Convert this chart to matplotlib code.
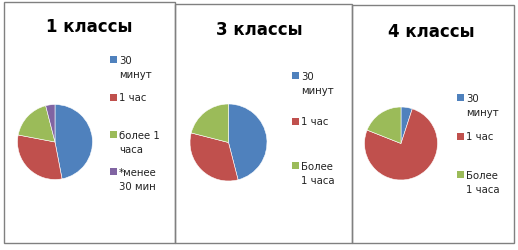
import matplotlib
matplotlib.use("Agg")
import matplotlib.pyplot as plt
from matplotlib.patches import Rectangle

# data (shares, %)
titles = ["1 классы", "3 классы", "4 классы"]
labels_1 = ["30\nминут", "1 час", "более 1\nчаса", "*менее\n30 мин"]
values_1 = [47, 31, 18, 4]
labels_3 = ["30\nминут", "1 час", "Более\n1 часа"]
values_3 = [46, 33, 21]
labels_4 = ["30\nминут", "1 час", "Более\n1 часа"]
values_4 = [5, 76, 19]

colors = ["#4F81BD", "#C0504D", "#9BBB59", "#8064A2"]

W, H = 518, 251
fig = plt.figure(figsize=(W / 100, H / 100), dpi=100)
fig.patch.set_facecolor("white")

def px(x, y):
    # pixel (from top-left) -> figure fraction
    return x / W, 1 - y / H

# panel frames (left, top, right, bottom) in pixels
frames = [(4, 3, 175, 244), (175, 5, 352, 244), (352, 6, 514, 244)]
# pie centre and radius in pixels
pies = [(55, 143, 37.5), (228.5, 143.5, 38.5), (401, 144.5, 36.5)]
title_pos = [(89, 27), (259, 30), (431, 32)]
legend_x = [113, 295, 460]
legend_y = [[68, 98, 143, 180], [84, 122, 174], [106, 137, 183]]

panels = [(labels_1, values_1), (labels_3, values_3), (labels_4, values_4)]

for i, (labels, values) in enumerate(panels):
    l, t, r, b = frames[i]
    fig.patches.append(Rectangle((l / W, 1 - b / H), (r - l) / W, (b - t) / H,
                                 transform=fig.transFigure, fill=False,
                                 edgecolor="#808080", linewidth=1.0))

    cx, cy, rad = pies[i]
    x0, y0 = px(cx - rad, cy + rad)
    ax = fig.add_axes([x0, y0, 2 * rad / W, 2 * rad / H])
    ax.pie(values, colors=colors[:len(values)], startangle=90, counterclock=False,
           radius=1, wedgeprops=dict(edgecolor="white", linewidth=0.4))
    ax.set_xlim(-1, 1)
    ax.set_ylim(-1, 1)
    ax.set_aspect("auto")
    ax.axis("off")

    tx, ty = px(*title_pos[i])
    fig.text(tx, ty, titles[i], ha="center", va="center", fontsize=12,
             fontweight="bold", family="DejaVu Sans")

    for j, lab in enumerate(labels):
        ly = legend_y[i][j]
        n_lines = lab.count("\n") + 1
        first_line_y = ly - (n_lines - 1) * 7.5
        sx, sy = px(legend_x[i] - 3.5, first_line_y + 3.5)
        fig.patches.append(Rectangle((sx, sy), 7 / W, 7 / H,
                                     transform=fig.transFigure,
                                     facecolor=colors[j], edgecolor="none"))
        lx, lyf = px(legend_x[i] + 6, ly)
        fig.text(lx, lyf, lab, ha="left", va="center", fontsize=7.3,
                 linespacing=1.55, color="#222222", family="DejaVu Sans")

fig.savefig("out.png", dpi=100, facecolor="white")
